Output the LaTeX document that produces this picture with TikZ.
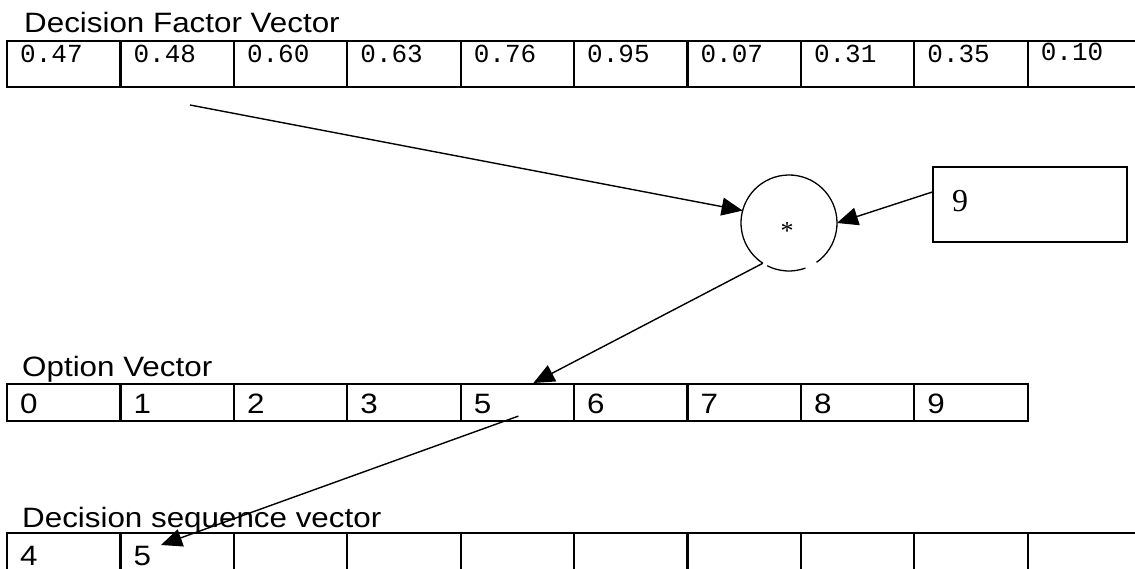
\documentclass[tikz,border=0pt]{standalone}
\usepackage{fontspec}
\setmainfont{Liberation Serif}
\newfontfamily\labelfont[FakeStretch=1.12]{Liberation Sans}
\newfontfamily\valuefont{Liberation Mono}
\usetikzlibrary{arrows.meta}

\begin{document}
\begin{tikzpicture}[x=1pt,y=1pt,
  vcell/.style={draw, line width=2.2pt, minimum width=113.4pt, inner sep=0pt, anchor=north west},
  topcell/.style={vcell, minimum height=46pt},
  optcell/.style={vcell, minimum height=37pt},
  seqcell/.style={vcell, minimum height=40pt},
  title/.style={anchor=base west, inner sep=0pt, font=\labelfont\fontsize{28}{30}\selectfont},
  celltext/.style={anchor=base west, inner sep=0pt, font=\labelfont\fontsize{28}{30}\selectfont},
  monotext/.style={anchor=base west, inner sep=0pt, font=\valuefont\fontsize{26}{28}\selectfont},
  thinline/.style={line width=1.3pt},
  link/.style={line width=1.4pt, -{Triangle[length=21pt,width=18pt]}},
]
\useasboundingbox (0,0) rectangle (1135,-569);
\fill[white] (0,0) rectangle (1135,-569);

% decision factor vector
\node[title] (dfvlabel) at (24,-33) {Decision Factor Vector};
\foreach \v [count=\i from 0] in {0.47,0.48,0.60,0.63,0.76,0.95,0.07,0.31,0.35} {
  \node[topcell] (dfv\i) at ({6+113.4*\i},-40) {};
  \node[monotext] (dfvt\i) at ({20+113.4*\i},-63) {\v};
}
\node[topcell] (dfv9) at ({6+113.4*9},-40) {};
\node[monotext] (dfvt9) at ({20+113.4*9},-61) {0.10};

% multiplication node
\node[circle, minimum size=96pt, inner sep=0pt, outer sep=0pt] (mul) at (789,-223) {};
\draw[thinline] (mul.243) arc[start angle=243, end angle=290, radius=48pt];
\draw[thinline] (mul.305) arc[start angle=305, end angle=597, radius=48pt];
\node[anchor=base, inner sep=0pt, font=\fontsize{26}{28}\selectfont] (star) at (787,-240) {*};

% multiplier box
\node[draw, thinline, minimum width=194pt, minimum height=75pt, inner sep=0pt] (nine) at (1030,-204.5) {};
\node[anchor=base west, inner sep=0pt, font=\fontsize{32}{34}\selectfont] (ninetext) at (952,-212) {9};

% option vector
\node[title] (optlabel) at (22,-376) {Option Vector};
\foreach \v [count=\i from 0] in {0,1,2,3,5,6,7,8,9} {
  \node[optcell] (opt\i) at ({6+113.4*\i},-383) {};
  \node[celltext] (optt\i) at ({20+113.4*\i},-413) {\v};
}

% decision sequence vector
\node[title] (seqlabel) at (22,-527) {Decision sequence vector};
\foreach \i in {0,...,9} {
  \node[seqcell] (seq\i) at ({6+113.4*\i},-532) {};
}
\node[celltext] (seqt0) at (20,-565) {4};
\node[celltext] (seqt1) at ({20+113.4},-565) {5};

% connectors
\coordinate (src) at (190,-105);
\draw[link] (src) -- (mul.165);
\draw[link] ([yshift=12.5pt]nine.west) -- (mul.east);
\draw[link] (mul.237) -- ([xshift=16pt]opt4.north);
\draw[link] ([xshift=1pt,yshift=-13.5pt]opt4.center) -- ([xshift=41.6pt,yshift=-13pt]seq1.north west);
\end{tikzpicture}
\end{document}
